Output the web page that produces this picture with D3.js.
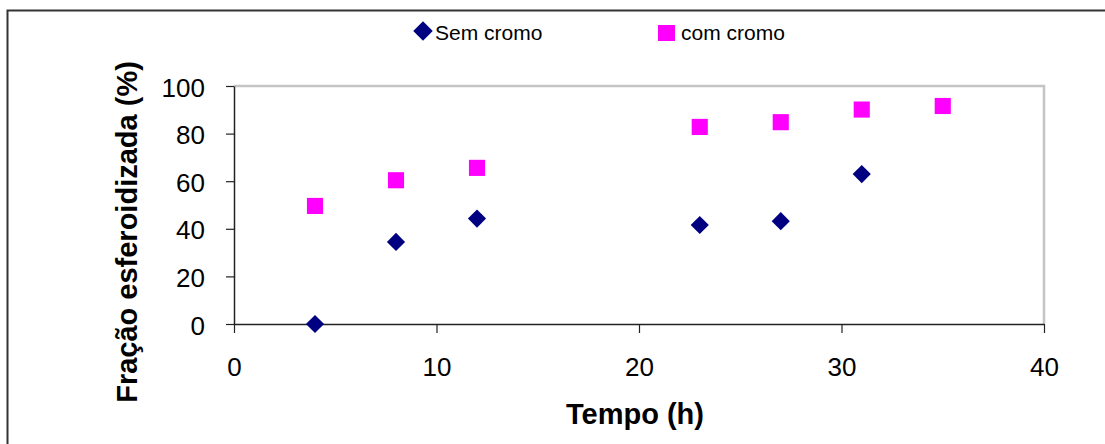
<!DOCTYPE html>
<html>
<head>
<meta charset="UTF-8">
<script src="https://d3js.org/d3.v7.min.js"></script>
<style>
  body { margin: 0; background: #fff; }
  svg { display: block; font-family: "Liberation Sans", Arial, sans-serif; }
</style>
</head>
<body>
<svg id="chart" width="1105" height="444"></svg>
<script>
// donnees
var semTempo = [4, 8, 12, 23, 27, 31];
var semFracao = [0, 34.5, 44.3, 41.6, 43.2, 63];
var comTempo = [4, 8, 12, 23, 27, 31, 35];
var comFracao = [49.6, 60.4, 65.6, 82.8, 84.8, 90.1, 91.6];
var xTicks = [0, 10, 20, 30, 40];
var yTicks = [0, 20, 40, 60, 80, 100];
var seriesNames = ["Sem cromo", "com cromo"];

var svg = d3.select("#chart");

// cadre exterieur
svg.append("rect")
  .attr("x", 7.5).attr("y", 10.5)
  .attr("width", 1110).attr("height", 450)
  .attr("fill", "none").attr("stroke", "#333").attr("stroke-width", 2);

var plotLeft = 234, plotRight = 1044, plotTop = 86, plotBottom = 324;

var x = d3.scaleLinear().domain([0, 40]).range([plotLeft, plotRight]);
var y = d3.scaleLinear().domain([0, 100]).range([plotBottom, plotTop]);

// bordure grise de la zone de trace (haut et droite)
svg.append("path")
  .attr("d", "M" + plotLeft + "," + plotTop + "H" + plotRight + "V" + plotBottom)
  .attr("fill", "none").attr("stroke", "#c4c4c4").attr("stroke-width", 2.5);

// axe des abscisses
var xAxis = svg.append("g")
  .attr("transform", "translate(0," + plotBottom + ")")
  .call(d3.axisBottom(x).tickValues(xTicks).tickSize(9).tickSizeOuter(0));
xAxis.select(".domain").attr("stroke", "#222").attr("stroke-width", 1.5);
xAxis.selectAll("line").attr("stroke", "#222").attr("stroke-width", 1.2);
xAxis.selectAll("text")
  .attr("y", 52).attr("dy", 0)
  .style("font-size", "26px").attr("fill", "#000");

// axe des ordonnees
var yAxis = svg.append("g")
  .attr("transform", "translate(" + plotLeft + ",0)")
  .call(d3.axisLeft(y).tickValues(yTicks).tickSize(8).tickSizeOuter(0));
yAxis.select(".domain").attr("stroke", "#222").attr("stroke-width", 1.5);
yAxis.selectAll("line").attr("stroke", "#222").attr("stroke-width", 1.2);
yAxis.selectAll("text")
  .attr("x", -29).attr("dy", 10)
  .style("font-size", "26px").attr("fill", "#000");

// titres des axes
svg.append("text")
  .attr("x", 635).attr("y", 424)
  .attr("text-anchor", "middle")
  .style("font-size", "29px").style("font-weight", "bold")
  .text("Tempo (h)");

svg.append("text")
  .attr("transform", "translate(137,232) rotate(-90)")
  .attr("text-anchor", "middle")
  .style("font-size", "29px").style("font-weight", "bold")
  .text("Fração esferoidizada (%)");

var diamond = d3.symbol().type(d3.symbolSquare).size(165);
var square = d3.symbol().type(d3.symbolSquare).size(260);

// serie sans chrome
svg.append("g").selectAll("path")
  .data(semTempo)
  .enter().append("path")
    .attr("d", diamond)
    .attr("transform", function(d, i) {
      return "translate(" + x(d) + "," + y(semFracao[i]) + ") rotate(45)";
    })
    .attr("fill", "#000080");

// serie avec chrome
svg.append("g").selectAll("path")
  .data(comTempo)
  .enter().append("path")
    .attr("d", square)
    .attr("transform", function(d, i) {
      return "translate(" + x(d) + "," + y(comFracao[i]) + ")";
    })
    .attr("fill", "#ff00ff");

// legende
svg.append("path")
  .attr("d", d3.symbol().type(d3.symbolSquare).size(190))
  .attr("transform", "translate(423,31) rotate(45)")
  .attr("fill", "#000080");
svg.append("text")
  .attr("x", 435).attr("y", 40)
  .style("font-size", "21px")
  .text(seriesNames[0]);

svg.append("rect")
  .attr("x", 658).attr("y", 25)
  .attr("width", 17).attr("height", 16)
  .attr("fill", "#ff00ff");
svg.append("text")
  .attr("x", 681).attr("y", 40)
  .style("font-size", "21px")
  .text(seriesNames[1]);
</script>
</body>
</html>
